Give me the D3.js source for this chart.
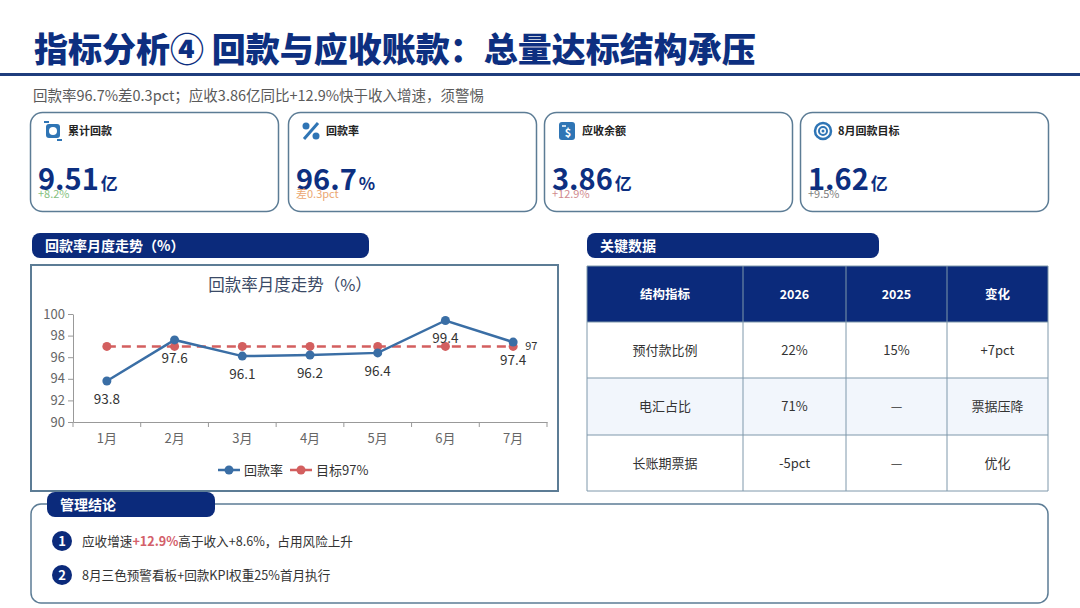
<!DOCTYPE html>
<html>
<head>
<meta charset="utf-8">
<script src="https://cdn.jsdelivr.net/npm/d3@7"></script>
<style>
  body { margin: 0; background: #fff; }
  svg { display: block; font-family: "Noto Sans CJK SC", "Noto Sans", sans-serif; }
</style>
</head>
<body>
<div id="chart"></div>
<script>
// data
const months = ["1月", "2月", "3月", "4月", "5月", "6月", "7月"];
const rateValues = [93.8, 97.6, 96.1, 96.2, 96.4, 99.4, 97.4];
const targetValues = [97, 97, 97, 97, 97, 97, 97];
const yTicks = [90, 92, 94, 96, 98, 100];

const kpiLabels = ["累计回款", "回款率", "应收余额", "8月回款目标"];
const kpiValues = ["9.51", "96.7", "3.86", "1.62"];
const kpiUnits = ["亿", "%", "亿", "亿"];
const kpiNotes = ["+8.2%", "差0.3pct", "+12.9%", "+9.5%"];
const kpiNoteColors = ["#86bf7e", "#eba772", "#d08a8e", "#808080"];

const tableHead = ["结构指标", "2026", "2025", "变化"];
const tableRows = [
  ["预付款比例", "22%", "15%", "+7pct"],
  ["电汇占比", "71%", "—", "票据压降"],
  ["长账期票据", "-5pct", "—", "优化"]
];

const navy = "#0b2a7b";
const border = "#5c7c95";

const svg = d3.select("#chart").append("svg")
  .attr("width", 1080)
  .attr("height", 608);

// title
svg.append("text")
  .attr("x", 34).attr("y", 62)
  .attr("font-size", 34).attr("font-weight", 900)
  .attr("fill", "#0d2f80")
  .text("指标分析④ 回款与应收账款：总量达标结构承压");
svg.append("rect")
  .attr("x", 0).attr("y", 73).attr("width", 1080).attr("height", 3)
  .attr("fill", "#1f3d7d");
svg.append("text")
  .attr("x", 33).attr("y", 101)
  .attr("font-size", 14.5).attr("fill", "#5a5a5a")
  .text("回款率96.7%差0.3pct；应收3.86亿同比+12.9%快于收入增速，须警惕");

// KPI cards
const cardX = [30, 288, 544, 800];
kpiLabels.forEach((label, i) => {
  const g = svg.append("g").attr("transform", "translate(" + cardX[i] + ",112)");
  g.append("rect")
    .attr("x", 0.5).attr("y", 0.5).attr("width", 248).attr("height", 99)
    .attr("rx", 12)
    .attr("fill", "#fff").attr("stroke", border).attr("stroke-width", 1.5);
  // icon
  const ic = g.append("g").attr("transform", "translate(23,19)");
  if (i === 0) {
    ic.append("rect").attr("x", -7).attr("y", -7).attr("width", 14).attr("height", 14).attr("rx", 3).attr("fill", "#2f75b5");
    ic.append("circle").attr("r", 4).attr("fill", "#fff");
    ic.append("path").attr("d", "M-9,-9 L-4,-9 M9,9 L4,9").attr("stroke", "#2f75b5").attr("stroke-width", 2);
  } else if (i === 1) {
    ic.append("circle").attr("cx", -5).attr("cy", -5).attr("r", 3.5).attr("fill", "#2f75b5");
    ic.append("circle").attr("cx", 5).attr("cy", 5).attr("r", 3.5).attr("fill", "#2f75b5");
    ic.append("path").attr("d", "M7,-8 L-7,8").attr("stroke", "#2f75b5").attr("stroke-width", 3);
  } else if (i === 2) {
    ic.append("rect").attr("x", -8).attr("y", -9).attr("width", 16).attr("height", 18).attr("rx", 3).attr("fill", "#2f75b5");
    ic.append("text").attr("x", 1).attr("y", 6).attr("text-anchor", "middle")
      .attr("font-size", 11).attr("font-weight", 700).attr("fill", "#fff").text("$");
    ic.append("path").attr("d", "M-5,-5 L-1,-5").attr("stroke", "#fff").attr("stroke-width", 1.5);
  } else {
    ic.append("circle").attr("r", 8).attr("fill", "none").attr("stroke", "#2f75b5").attr("stroke-width", 2.5);
    ic.append("circle").attr("r", 4).attr("fill", "none").attr("stroke", "#2f75b5").attr("stroke-width", 2);
    ic.append("circle").attr("r", 1.5).attr("fill", "#2f75b5");
  }
  g.append("text")
    .attr("x", 38).attr("y", 23)
    .attr("font-size", 11).attr("font-weight", 700).attr("fill", "#222")
    .text(label);
  const v = g.append("text")
    .attr("x", 8).attr("y", 78)
    .attr("fill", "#0d2f80").attr("font-weight", 700);
  v.append("tspan").attr("font-size", 29).text(kpiValues[i]);
  v.append("tspan").attr("font-size", 17).attr("dx", 2).text(kpiUnits[i]);
  g.append("text")
    .attr("x", 8).attr("y", 86)
    .attr("font-size", 11).attr("fill", kpiNoteColors[i])
    .text(kpiNotes[i]);
});

// section header pills
function pill(x, y, w, label) {
  svg.append("rect")
    .attr("x", x).attr("y", y).attr("width", w).attr("height", 25)
    .attr("rx", 8).attr("fill", navy);
  svg.append("text")
    .attr("x", x + 13).attr("y", y + 18)
    .attr("font-size", 14).attr("font-weight", 700).attr("fill", "#fff")
    .text(label);
}
pill(32, 233, 337, "回款率月度走势（%）");
pill(587, 233, 292, "关键数据");

// line chart
svg.append("rect")
  .attr("x", 31).attr("y", 265).attr("width", 527).attr("height", 226)
  .attr("fill", "#fff").attr("stroke", border).attr("stroke-width", 2);

svg.append("text")
  .attr("x", 290).attr("y", 291)
  .attr("text-anchor", "middle")
  .attr("font-size", 16.5).attr("fill", "#3b4a66")
  .text("回款率月度走势（%）");

const x = d3.scaleBand().domain(months).range([73, 547]);
const y = d3.scaleLinear().domain([90, 100]).range([422, 314]);

const xAxis = svg.append("g")
  .attr("transform", "translate(0,422)")
  .call(d3.axisBottom(x).tickSize(0).tickSizeOuter(0));
xAxis.select(".domain").attr("stroke", "#999");
xAxis.selectAll("text").attr("font-size", 13).attr("fill", "#666").attr("dy", "1.35em")
  .attr("font-family", "'Noto Sans CJK SC', sans-serif");
// ticks at band boundaries
xAxis.selectAll(".bound")
  .data(months.map(m => x(m)).concat([x.range()[1]]))
  .enter().append("line")
  .attr("class", "bound")
  .attr("x1", d => d).attr("x2", d => d)
  .attr("y1", 0).attr("y2", 5)
  .attr("stroke", "#999");

const yAxis = svg.append("g")
  .attr("transform", "translate(73,0)")
  .call(d3.axisLeft(y).tickValues(yTicks).tickSize(5).tickSizeOuter(0));
yAxis.select(".domain").attr("stroke", "#999");
yAxis.selectAll("line").attr("stroke", "#999");
yAxis.selectAll("text").attr("font-size", 13).attr("fill", "#666")
  .attr("font-family", "'Noto Sans CJK SC', sans-serif");

const cx = m => x(m) + x.bandwidth() / 2;
const line = d3.line().x((d, i) => cx(months[i])).y(d => y(d));

const blue = "#3a6ea5";
const red = "#d35f5f";

// target
svg.append("path")
  .datum(targetValues)
  .attr("d", line)
  .attr("fill", "none").attr("stroke", red)
  .attr("stroke-width", 2.5).attr("stroke-dasharray", "9,6");
svg.selectAll(".tdot").data(targetValues).enter().append("circle")
  .attr("cx", (d, i) => cx(months[i])).attr("cy", d => y(d))
  .attr("r", 4.5).attr("fill", red);
svg.append("text")
  .attr("x", cx(months[6]) + 12).attr("y", y(targetValues[6]) + 4)
  .attr("font-size", 11).attr("fill", "#333")
  .text(targetValues[6]);

// rate
svg.append("path")
  .datum(rateValues)
  .attr("d", line)
  .attr("fill", "none").attr("stroke", blue).attr("stroke-width", 2.5);
svg.selectAll(".rdot").data(rateValues).enter().append("circle")
  .attr("cx", (d, i) => cx(months[i])).attr("cy", d => y(d))
  .attr("r", 4.5).attr("fill", blue);
svg.selectAll(".rlab").data(rateValues).enter().append("text")
  .attr("x", (d, i) => cx(months[i])).attr("y", d => y(d) + 23)
  .attr("text-anchor", "middle")
  .attr("font-size", 13.5).attr("fill", "#333")
  .text(d => d.toFixed(1));

// legend
const legendItems = [["回款率", blue, 218], ["目标97%", red, 290]];
legendItems.forEach(([name, color, lx]) => {
  svg.append("line")
    .attr("x1", lx).attr("x2", lx + 22).attr("y1", 470).attr("y2", 470)
    .attr("stroke", color).attr("stroke-width", 2.5);
  svg.append("circle").attr("cx", lx + 11).attr("cy", 470).attr("r", 4.5).attr("fill", color);
  svg.append("text")
    .attr("x", lx + 26).attr("y", 475)
    .attr("font-size", 13).attr("fill", "#333")
    .text(name);
});

// table
const colX = [587, 743, 846, 947, 1048];
const rowY = [266, 322, 378, 435, 491];
const table = svg.append("g");
table.append("rect")
  .attr("x", colX[0]).attr("y", rowY[0])
  .attr("width", colX[4] - colX[0]).attr("height", rowY[1] - rowY[0])
  .attr("fill", navy);
tableRows.forEach((row, r) => {
  table.append("rect")
    .attr("x", colX[0]).attr("y", rowY[r + 1])
    .attr("width", colX[4] - colX[0]).attr("height", rowY[r + 2] - rowY[r + 1])
    .attr("fill", r === 1 ? "#f2f6fc" : "#fff");
});
rowY.forEach(yy => {
  table.append("line").attr("x1", colX[0]).attr("x2", colX[4])
    .attr("y1", yy).attr("y2", yy).attr("stroke", "#7f98ab").attr("stroke-width", 1);
});
colX.forEach(xx => {
  table.append("line").attr("x1", xx).attr("x2", xx)
    .attr("y1", rowY[0]).attr("y2", rowY[4]).attr("stroke", "#7f98ab").attr("stroke-width", 1);
});
tableHead.forEach((h, c) => {
  table.append("text")
    .attr("x", (colX[c] + colX[c + 1]) / 2).attr("y", (rowY[0] + rowY[1]) / 2 + 4.5)
    .attr("text-anchor", "middle")
    .attr("font-size", 12.5).attr("font-weight", 700).attr("fill", "#fff")
    .text(h);
});
tableRows.forEach((row, r) => {
  row.forEach((cell, c) => {
    table.append("text")
      .attr("x", (colX[c] + colX[c + 1]) / 2).attr("y", (rowY[r + 1] + rowY[r + 2]) / 2 + 4.5)
      .attr("text-anchor", "middle")
      .attr("font-size", 13).attr("fill", "#333")
      .text(cell);
  });
});

// management conclusions
svg.append("rect")
  .attr("x", 31).attr("y", 504).attr("width", 1017).attr("height", 99)
  .attr("rx", 10).attr("fill", "#fff").attr("stroke", border).attr("stroke-width", 1.5);
pill(47, 492, 168, "管理结论");

const items = [
  [["应收增速", null], ["+12.9%", "#d3606a"], ["高于收入+8.6%，占用风险上升", null]],
  [["8月三色预警看板+回款KPI权重25%首月执行", null]]
];
items.forEach((parts, i) => {
  const yy = 541 + i * 34;
  svg.append("circle").attr("cx", 62).attr("cy", yy).attr("r", 10).attr("fill", navy);
  svg.append("text")
    .attr("x", 62).attr("y", yy + 5).attr("text-anchor", "middle")
    .attr("font-size", 13).attr("font-weight", 700).attr("fill", "#fff")
    .text(i + 1);
  const t = svg.append("text").attr("x", 82).attr("y", yy + 5)
    .attr("font-size", 12.6).attr("fill", "#333");
  parts.forEach(([s, col]) => {
    const ts = t.append("tspan").text(s);
    if (col) ts.attr("fill", col).attr("font-weight", 700);
  });
});
</script>
</body>
</html>
